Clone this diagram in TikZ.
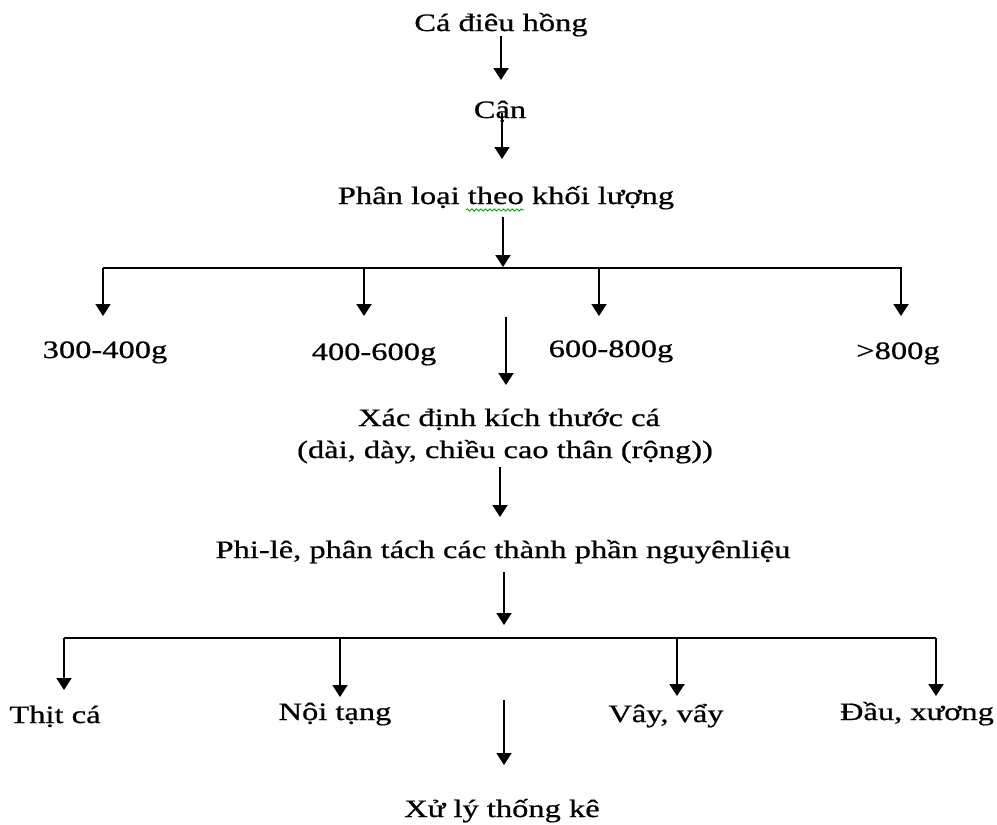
\documentclass[tikz,border=0pt]{standalone}
\usepackage{fontspec}
\setmainfont{Liberation Serif}[FakeStretch=1.3,FakeBold=0.7]
\usetikzlibrary{arrows.meta,decorations.pathmorphing}
\begin{document}
\begin{tikzpicture}[x=1pt,y=-1pt,
  lbl/.style={anchor=base,inner sep=0pt,font=\fontsize{25}{32}\selectfont},
  arr/.style={line width=1.9pt,-{Triangle[width=15pt,length=12pt]}},
  barline/.style={line width=1.7pt},
  spell/.style={draw=green!65!black,line width=0.8pt,decorate,decoration={snake,amplitude=1.1pt,segment length=4.5pt}}]
\useasboundingbox[fill=white] (0,0) rectangle (997,825);

% labels
\node[lbl] (t1) at (501,31) {Cá điêu hồng};
\node[lbl] (t2) at (500,118) {Cận};
\node[lbl] (t3) at (506,204) {Phân loại theo khối lượng};
\node[lbl] (w1) at (105,358) {300-400g};
\node[lbl] (w2) at (374,360) {400-600g};
\node[lbl] (w3) at (611,357) {600-800g};
\node[lbl] (w4) at (898,359) {>800g};
\node[lbl] (xd1) at (509,426) {Xác định kích thước cá};
\node[lbl] (xd2) at (505,458) {(dài, dày, chiều cao thân (rộng))};
\node[lbl] (pl) at (503,558) {Phi-lê, phân tách các thành phần nguyênliệu};
\node[lbl] (p1) at (55,723) {Thịt cá};
\node[lbl] (p2) at (335,720) {Nội tạng};
\node[lbl] (p3) at (666,722) {Vây, vẩy};
\node[lbl] (p4) at (917,720) {Đầu, xương};
\node[lbl] (xl) at (502,817) {Xử lý thống kê};

% spell-check underline
\coordinate (s1) at (466,210);
\coordinate (s2) at (524,210);
\draw[spell] (s1) -- (s2);

% coordinates
\coordinate (a1s) at (501,36);  \coordinate (a1e) at (501,80);
\coordinate (a2s) at (502,113); \coordinate (a2e) at (502,159);
\coordinate (a3s) at (503,217); \coordinate (a3e) at (503,267);
\coordinate (b1l) at (103,268); \coordinate (b1r) at (902,268);
\coordinate (d1) at (364,268); \coordinate (d2) at (599,268); \coordinate (d3) at (901,268);
\coordinate (a4s) at (506,317); \coordinate (a4e) at (506,385);
\coordinate (a5s) at (500,467); \coordinate (a5e) at (500,517);
\coordinate (a6s) at (504,572); \coordinate (a6e) at (504,625);
\coordinate (b2l) at (64,638); \coordinate (b2r) at (936,638);
\coordinate (e1) at (340,638); \coordinate (e2) at (677,638);
\coordinate (a7s) at (504,700); \coordinate (a7e) at (504,765);

% connectors
\draw[arr] (a1s) -- (a1e);
\draw[arr] (a2s) -- (a2e);
\draw[arr] (a3s) -- (a3e);
\draw[barline] (b1l) -- (b1r);
\draw[arr] (b1l) -- (103,316);
\draw[arr] (d1) -- (364,316);
\draw[arr] (d2) -- (599,316);
\draw[arr] (d3) -- (901,316);
\draw[arr] (a4s) -- (a4e);
\draw[arr] (a5s) -- (a5e);
\draw[arr] (a6s) -- (a6e);
\draw[barline] (b2l) -- (b2r);
\draw[arr] (b2l) -- (64,690);
\draw[arr] (e1) -- (340,697);
\draw[arr] (e2) -- (677,696);
\draw[arr] (b2r) -- (936,696);
\draw[arr] (a7s) -- (a7e);
\end{tikzpicture}
\end{document}
